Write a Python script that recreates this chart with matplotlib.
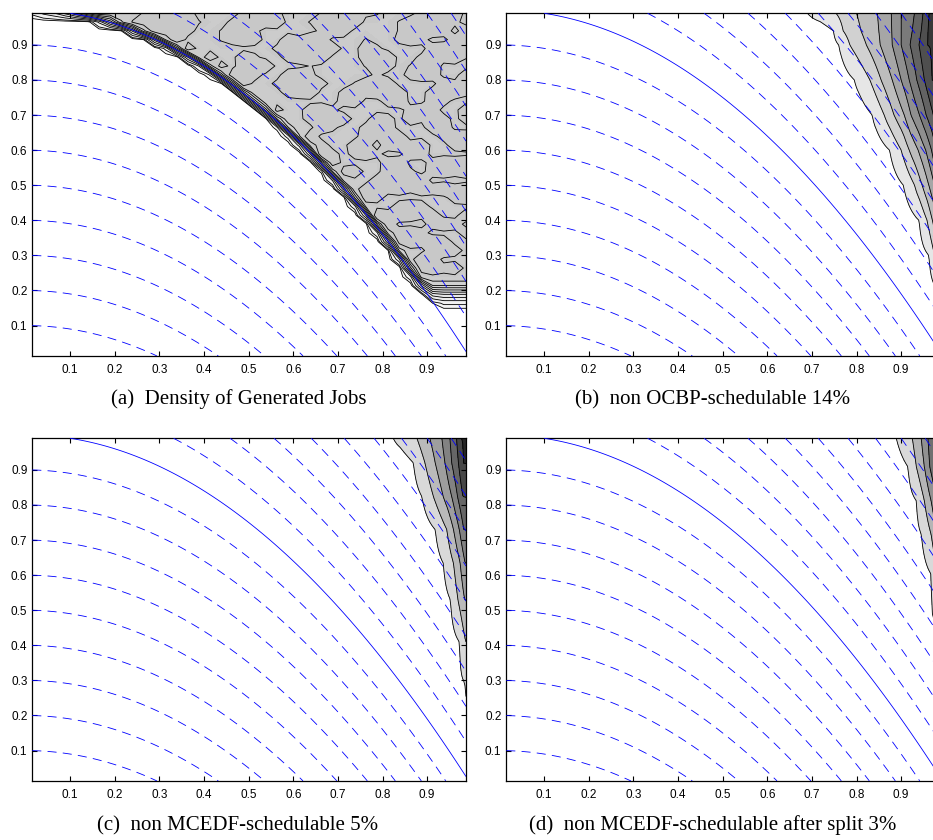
import numpy as np
import matplotlib
matplotlib.use("Agg")
import matplotlib.pyplot as plt

plt.rcParams['font.family'] = ['Liberation Sans', 'DejaVu Sans']
plt.rcParams['lines.scale_dashes'] = False

# axis window shared by the four panels
x_lim = (0.015, 0.987)
y_lim = (0.0135, 0.990)
ticks = [0.1, 0.2, 0.3, 0.4, 0.5, 0.6, 0.7, 0.8, 0.9]

# blue isolines of y + x^2
dashed_levels = [0.1, 0.2, 0.3, 0.4, 0.5, 0.6, 0.7, 0.8, 0.9,
                 1.1, 1.2, 1.3, 1.4, 1.5, 1.6, 1.7, 1.8, 1.9]
solid_levels = [1.0]

# (a) density of generated jobs: jobs exist where y + x^2 >= 1
support_level = 1.0
density_full = 10.0
density_levels = [0.5, 1, 2, 3, 4, 5, 6, 7, 8, 9]
noise_level = 10.5
fade_rows_y = [0.139, 0.164, 0.189, 0.214, 0.239]
fade_rows = [0.06, 0.12, 0.40, 0.80, 1.0]
# 40x40 grid, rows from the top: small excess over the plateau (digit * 0.3)
density_noise = [
    "..........23574....3683...258732...4396.",
    ".........2578462..36957..25847...268543.",
    "..........25694..2763.....386....26475.5",
    "............57...2485..6397...2..364..57",
    "...........5836.......375948..63....5729",
    "...............46..73..4859...547..36582",
    "..............2584.639...2....285.267...",
    "................47695..583.....3..476..5",
    ".................586..37594..2657....638",
    "..................5....468..385746..5973",
    "...................63.......47..58..64..",
    "....................574..693......475..6",
    "...................4759..5386..64.7394.5",
    ".....................56...73..485...67..",
    "......................5947....6385...476",
    "......................37485..64.5947..58",
    ".........................584.473..65....",
    "...........................6....57..4869",
    "..........................5847..693.5748",
    "...........................67..58496....",
    "..............................5746385947",
    "..............................64......57",
    "...........................475...586....",
    "..............................4958637..6",
    "...............................57...485.",
    ".................................694...5",
    ".................................47586..",
    "...............................584..695.",
    "..................................476...",
    "...................................5847.",
    "....................................65..",
]

# (b) non OCBP-schedulable: x where each gray level is crossed, per row
b_rows_y = [0.99, 0.94, 0.90, 0.80, 0.70, 0.60, 0.50, 0.40, 0.30, 0.20, 0.10, 0.0135]
b_cross = [
    [0.690, 0.754, 0.800, 0.847, 0.878, 0.900, 0.930, 0.949, 0.962],
    [0.748, 0.770, 0.810, 0.850, 0.879, 0.900, 0.925, 0.945, 0.960],
    [0.760, 0.785, 0.822, 0.853, 0.880, 0.900, 0.920, 0.940, 0.958],
    [0.795, 0.830, 0.855, 0.880, 0.900, 0.918, 0.935, 0.952, 0.968],
    [0.835, 0.862, 0.884, 0.907, 0.922, 0.941, 0.956, 0.972, 0.985],
    [0.874, 0.900, 0.918, 0.938, 0.955, 0.968, 0.978, 0.988],
    [0.905, 0.930, 0.947, 0.962, 0.975, 0.990],
    [0.940, 0.958, 0.970, 0.982],
    [0.962, 0.975, 0.990],
    [0.985],
    [],
    [],
]
b_grays = [0.90, 0.82, 0.74, 0.65, 0.56, 0.48, 0.39, 0.31, 0.22]

# (c) non MCEDF-schedulable
c_rows_y = [0.99, 0.92, 0.824, 0.73, 0.634, 0.53, 0.41, 0.30, 0.215, 0.15, 0.0135]
c_cross = [
    [0.824, 0.877, 0.906, 0.933, 0.951, 0.966, 0.977],
    [0.869, 0.895, 0.918, 0.940, 0.955, 0.970, 0.980],
    [0.888, 0.914, 0.936, 0.955, 0.968, 0.980],
    [0.918, 0.944, 0.959, 0.972, 0.982],
    [0.936, 0.959, 0.974, 0.985],
    [0.952, 0.969, 0.984],
    [0.972, 0.986],
    [0.981],
    [0.988],
    [],
    [],
]
c_grays = [0.85, 0.73, 0.62, 0.51, 0.40, 0.28, 0.15]

# (d) non MCEDF-schedulable after split
d_rows_y = [0.99, 0.909, 0.812, 0.717, 0.603, 0.48, 0.40, 0.30, 0.0135]
d_cross = [
    [0.889, 0.925, 0.945, 0.960, 0.972],
    [0.915, 0.934, 0.952, 0.964, 0.978],
    [0.934, 0.952, 0.967, 0.980],
    [0.945, 0.967, 0.980],
    [0.967, 0.982],
    [0.971],
    [0.985],
    [],
    [],
]
d_grays = [0.85, 0.71, 0.57, 0.44, 0.33]

captions = ['(a)  Density of Generated Jobs',
            '(b)  non OCBP-schedulable 14%',
            '(c)  non MCEDF-schedulable 5%',
            '(d)  non MCEDF-schedulable after split 3%']


def level_field(rows_y, crossings, xs):
    field = np.zeros((len(rows_y), len(xs)))
    for r, cuts in enumerate(crossings):
        if not cuts:
            continue
        m = len(cuts)
        xp = [cuts[0] - 0.03] + cuts + [1.2]
        fp = [0.0] + [k + 0.5 for k in range(m)] + [m + 0.2]
        field[r] = np.interp(xs, xp, fp)
    order = np.argsort(rows_y)
    return np.array(rows_y)[order], field[order]


def style_axes(ax):
    ax.set_xlim(*x_lim)
    ax.set_ylim(*y_lim)
    ax.set_xticks(ticks)
    ax.set_yticks(ticks)
    ax.tick_params(direction='in', top=True, right=True, length=3.5,
                   width=0.8, labelsize=8.5, colors='black')
    ax.tick_params(axis='x', pad=6)
    ax.tick_params(axis='y', pad=3.5)
    for s in ax.spines.values():
        s.set_linewidth(0.9)


def blue_lines(ax):
    xf = np.linspace(x_lim[0], x_lim[1], 400)
    yf = np.linspace(y_lim[0], y_lim[1], 400)
    XF, YF = np.meshgrid(xf, yf)
    U = XF ** 2 + YF
    cs = ax.contour(XF, YF, U, levels=dashed_levels, colors='#0000ff',
                    linewidths=0.6, zorder=4)
    cs.set_linestyle((0, (6.5, 4.5)))
    ax.contour(XF, YF, U, levels=solid_levels, colors='#0000ff',
               linewidths=0.6, zorder=4)


fig = plt.figure(figsize=(9.33, 8.4), dpi=100)
W, H = 933.0, 840.0
boxes = [(32.3, 13.3), (506.3, 13.3), (32.3, 438.3), (506.3, 438.3)]
axw, axh = 433.7, 342.6
axes = [fig.add_axes([l / W, 1 - (t + axh) / H, axw / W, axh / H]) for l, t in boxes]

# panel (a): share of each grid cell inside the job region
n = 40
gx = np.linspace(x_lim[0], x_lim[1], n)
gy = np.linspace(y_lim[0], y_lim[1], n)
GX, GY = np.meshgrid(gx, gy)
dx, dy = gx[1] - gx[0], gy[1] - gy[0]
sub = np.linspace(-0.5, 0.5, 9)
cover = np.zeros_like(GX)
for ox in sub:
    for oy in sub:
        cover += ((GX + ox * dx) ** 2 + (GY + oy * dy) >= support_level)
cover /= len(sub) ** 2
fade = np.interp(gy, fade_rows_y, fade_rows, left=0.0, right=1.0)[:, None]
dens = density_full * cover * fade
for row, text in enumerate(density_noise):
    r = n - 1 - row
    for j, ch in enumerate(text.ljust(n, '.')[:n]):
        if ch != '.' and cover[r, j] >= 1.0 and fade[r, 0] >= 1.0:
            dens[r, j] += int(ch) * 0.3

ax = axes[0]
fill_levels = density_levels + [density_full, density_full + 5]
fill_cols = [str(g) for g in np.linspace(0.965, 0.80, len(fill_levels) - 2)] + ['#c8c8c8']
ax.contourf(GX, GY, dens, levels=fill_levels, colors=fill_cols, zorder=1)
ax.contour(GX, GY, dens, levels=density_levels + [noise_level], colors='black',
           linewidths=0.6, zorder=2)
blue_lines(ax)
style_axes(ax)

# panels (b), (c), (d)
xs = np.linspace(x_lim[0], x_lim[1], 400)
for ax, rows_y, cross, grays in [(axes[1], b_rows_y, b_cross, b_grays),
                                 (axes[2], c_rows_y, c_cross, c_grays),
                                 (axes[3], d_rows_y, d_cross, d_grays)]:
    ry, field = level_field(rows_y, cross, xs)
    lv = [k + 0.5 for k in range(len(grays))]
    ax.contourf(xs, ry, field, levels=lv + [50], colors=[str(g) for g in grays], zorder=1)
    ax.contour(xs, ry, field, levels=lv, colors='black', linewidths=0.6, zorder=2)
    blue_lines(ax)
    style_axes(ax)

cap_pos = [(239, 404), (712.5, 404), (238, 830), (713, 830)]
for (cx, cy), text in zip(cap_pos, captions):
    fig.text(cx / W, 1 - cy / H, text, ha='center', va='baseline',
             fontsize=15, family=['Liberation Serif', 'DejaVu Serif'])

fig.savefig('out.png', dpi=100)
